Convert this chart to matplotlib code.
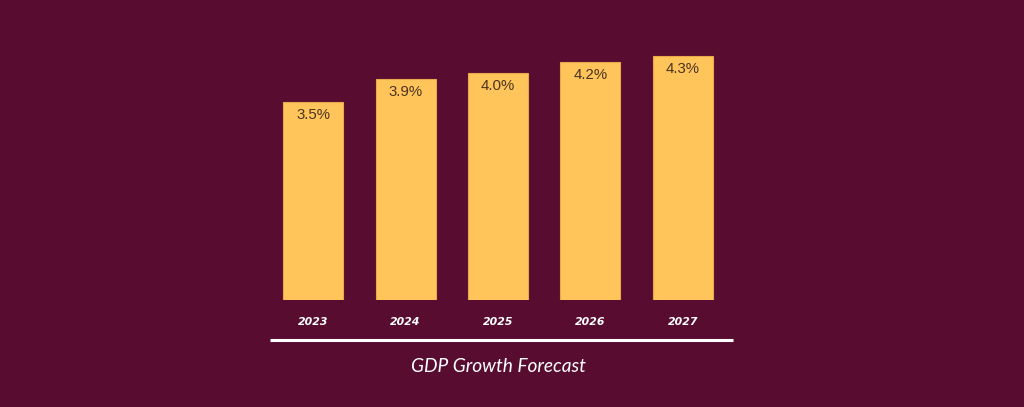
import matplotlib.pyplot as plt
import numpy as np

years = ['2023', '2024', '2025', '2026', '2027']
growth = [3.5, 3.9, 4.0, 4.2, 4.3]
labels = ['3.5%', '3.9%', '4.0%', '4.2%', '4.3%']
title = 'GDP Growth Forecast'

bg = '#580D30'
bar_col = '#FFC55A'

fig = plt.figure(figsize=(10.24, 4.07), dpi=100)
fig.patch.set_facecolor(bg)

# axes placed so the bars land where they do in the picture
ax = fig.add_axes([267 / 1024, 107 / 407, 462 / 1024, 283.5 / 407])
ax.set_facecolor(bg)

x = np.arange(len(years))
bars = ax.bar(x, growth, width=0.65, color=bar_col, edgecolor='#E9A94A', linewidth=0.8)

for b, lab in zip(bars, labels):
    ax.annotate(lab, (b.get_x() + b.get_width() / 2, b.get_height()),
                xytext=(0, -13), textcoords='offset pixels',
                ha='center', va='center', fontsize=10.8, color='#4A3320',
                family='Liberation Sans')

ax.set_xlim(-0.5, 4.5)
ax.set_ylim(0, 5)
ax.set_yticks([])
ax.set_xticks(x)
ax.set_xticklabels(years, fontsize=7.8, fontweight='bold', fontstyle='italic',
                   color='white', family='DejaVu Sans')
ax.tick_params(axis='x', length=0, pad=12)
for s in ax.spines.values():
    s.set_visible(False)

# white rule under the year labels
trans = ax.get_xaxis_transform()
ax.plot([-0.47, 4.54], [-0.141, -0.141], color='white', lw=2.2,
        transform=trans, clip_on=False, solid_capstyle='butt')

ax.text(2, -0.235, title, transform=trans, ha='center', va='center',
        fontsize=13.8, fontstyle='italic', color='white', family='Lato')

fig.savefig('out.png', dpi=100, facecolor=bg)
